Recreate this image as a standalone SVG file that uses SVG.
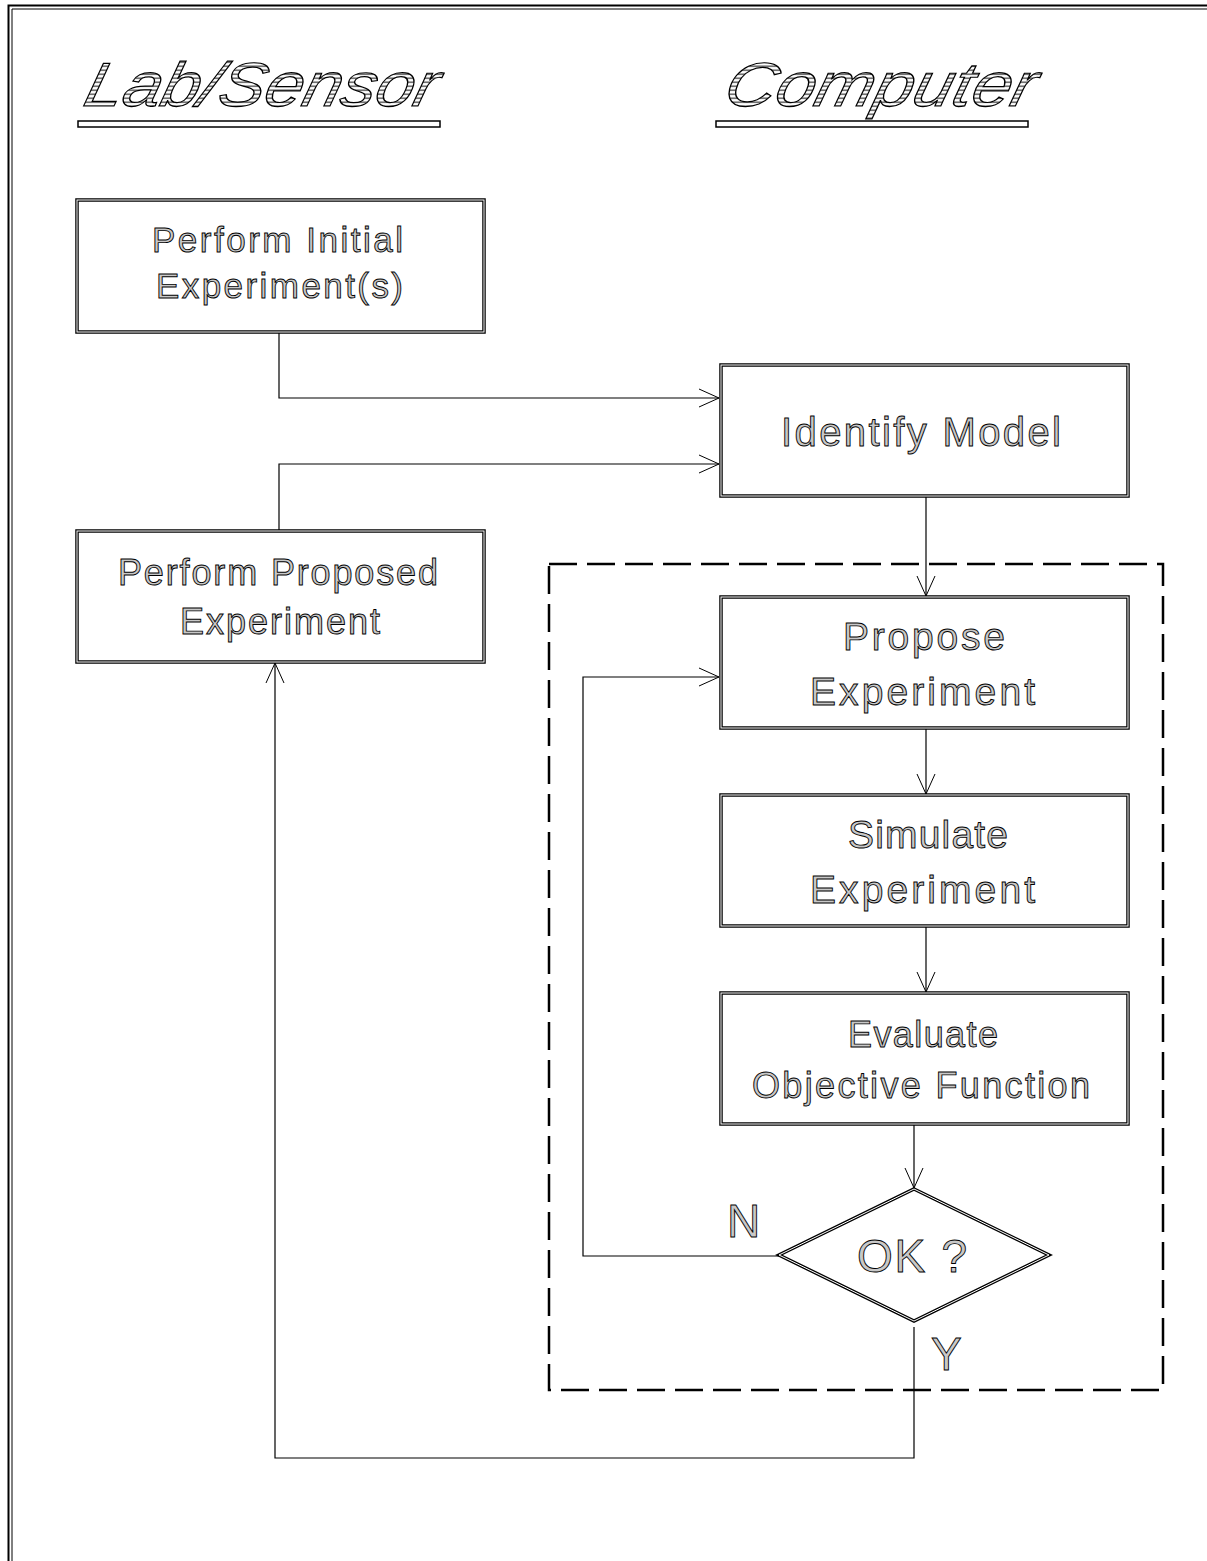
<svg xmlns="http://www.w3.org/2000/svg" width="1207" height="1561" viewBox="0 0 1207 1561">
<defs>
<pattern id="hatch" width="4" height="4" patternUnits="userSpaceOnUse">
<rect width="4" height="4" fill="#ffffff"/>
<rect y="1.5" width="4" height="1.4" fill="#444"/>
</pattern>
<marker id="arr" markerUnits="userSpaceOnUse" markerWidth="24" markerHeight="22" refX="21" refY="11" orient="auto">
<path d="M1,2 L21,11 L1,20" fill="none" stroke="#000" stroke-width="1"/>
</marker>
</defs>
<style>
.outer{fill:none;stroke:#000;stroke-width:3.5}
.inner{fill:none;stroke:#fff;stroke-width:1}
.lbl{font-family:"Liberation Sans",Arial,sans-serif;fill:#c8c8c8;stroke:#000;stroke-width:0.9}
.ttl{font-family:"Liberation Sans",Arial,sans-serif;font-style:italic;fill:url(#hatch);stroke:#000;stroke-width:1.2}
.conn{fill:none;stroke:#000;stroke-width:1.2}
.dash{fill:none;stroke:#000;stroke-width:2.5;stroke-dasharray:28,10}
</style>
<rect width="1207" height="1561" fill="#fff"/>
<g id="frame">
<path d="M1207,5.5 H8.5 V1561" fill="none" stroke="#000" stroke-width="2"/>
<path d="M1207,9 H12 V1561" fill="none" stroke="#000" stroke-width="1"/>
</g>
<g id="title-lab">
<text class="ttl" x="82" y="106" font-size="62" textLength="352" lengthAdjust="spacingAndGlyphs" transform="skewX(-14) translate(26,0)">Lab/Sensor</text>
<rect x="78" y="121" width="362" height="6" fill="none" stroke="#000" stroke-width="1.5"/>
</g>
<g id="title-computer">
<text class="ttl" x="722" y="106" font-size="62" textLength="310" lengthAdjust="spacingAndGlyphs" transform="skewX(-14) translate(26,0)">Computer</text>
<rect x="716" y="121" width="312" height="6" fill="none" stroke="#000" stroke-width="1.5"/>
</g>
<g id="dashed-group">
<rect class="dash" x="549" y="564" width="614" height="826"/>
</g>
<g id="connectors">
<path class="conn" d="M279,333 V398 H719" marker-end="url(#arr)"/>
<path class="conn" d="M279,530 V464 H719" marker-end="url(#arr)"/>
<path class="conn" d="M926,497 V596" marker-end="url(#arr)"/>
<path class="conn" d="M926,729 V794" marker-end="url(#arr)"/>
<path class="conn" d="M926,927 V992" marker-end="url(#arr)"/>
<path class="conn" d="M914,1125 V1188" marker-end="url(#arr)"/>
<path class="conn" d="M779,1256 H583 V677 H719" marker-end="url(#arr)"/>
<path class="conn" d="M914,1327 V1458 H275 V663" marker-end="url(#arr)"/>
</g>
<g id="node-initial">
<rect class="outer" x="77" y="200" width="407" height="132"/>
<rect class="inner" x="77" y="200" width="407" height="132"/>
<text class="lbl" x="152" y="252" font-size="35" textLength="251" lengthAdjust="spacing">Perform Initial</text>
<text class="lbl" x="156" y="298" font-size="35" textLength="247" lengthAdjust="spacing">Experiment(s)</text>
</g>
<g id="node-identify">
<rect class="outer" x="721" y="365" width="407" height="131"/>
<rect class="inner" x="721" y="365" width="407" height="131"/>
<text class="lbl" x="781" y="446" font-size="40" textLength="280" lengthAdjust="spacing">Identify Model</text>
</g>
<g id="node-proposed">
<rect class="outer" x="77" y="531" width="407" height="131"/>
<rect class="inner" x="77" y="531" width="407" height="131"/>
<text class="lbl" x="118" y="585" font-size="36" textLength="320" lengthAdjust="spacing">Perform Proposed</text>
<text class="lbl" x="180" y="634" font-size="36" textLength="200" lengthAdjust="spacing">Experiment</text>
</g>
<g id="node-propose">
<rect class="outer" x="721" y="597" width="407" height="131"/>
<rect class="inner" x="721" y="597" width="407" height="131"/>
<text class="lbl" x="843" y="650" font-size="39" textLength="162" lengthAdjust="spacing">Propose</text>
<text class="lbl" x="810" y="705" font-size="39" textLength="225" lengthAdjust="spacing">Experiment</text>
</g>
<g id="node-simulate">
<rect class="outer" x="721" y="795" width="407" height="131"/>
<rect class="inner" x="721" y="795" width="407" height="131"/>
<text class="lbl" x="848" y="848" font-size="39" textLength="160" lengthAdjust="spacing">Simulate</text>
<text class="lbl" x="810" y="903" font-size="39" textLength="225" lengthAdjust="spacing">Experiment</text>
</g>
<g id="node-evaluate">
<rect class="outer" x="721" y="993" width="407" height="131"/>
<rect class="inner" x="721" y="993" width="407" height="131"/>
<text class="lbl" x="848" y="1047" font-size="36" textLength="150" lengthAdjust="spacing">Evaluate</text>
<text class="lbl" x="752" y="1098" font-size="36" textLength="338" lengthAdjust="spacing">Objective Function</text>
</g>
<g id="node-ok">
<polygon points="914,1189 1049,1255 914,1321 779,1255" fill="#fff" stroke="#000" stroke-width="3.5"/>
<polygon points="914,1189 1049,1255 914,1321 779,1255" fill="none" stroke="#fff" stroke-width="1"/>
<text class="lbl" x="857" y="1272" font-size="46" textLength="110" lengthAdjust="spacing">OK ?</text>
</g>
<g id="labels">
<text class="lbl" x="727" y="1237" font-size="46">N</text>
<text class="lbl" x="931" y="1370" font-size="46">Y</text>
</g>
</svg>
